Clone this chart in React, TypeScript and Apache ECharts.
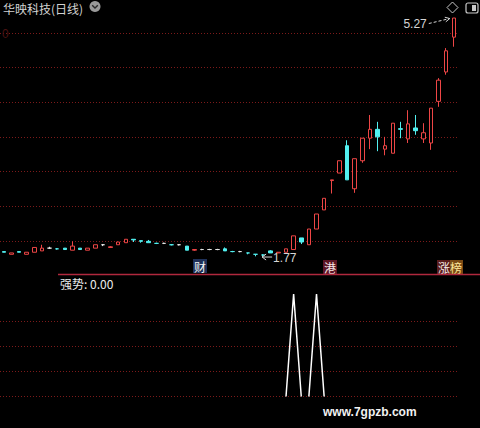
import React, { useEffect, useRef } from "react";
import * as echarts from "echarts";

// Daily K-line of 华映科技: open / close / low / high per session
const opens = [
  1.85, 1.81, 1.85, 1.81, 1.84, 1.86, 1.9, 1.89, 1.9, 1.87,
  1.9, 1.87, 1.9, 1.95, 1.91, 1.95, 1.98, 2.03, 2.01, 2.0,
  1.97, 1.97, 1.95, 1.95, 1.93, 1.87, 1.88, 1.88, 1.88, 1.89,
  1.85, 1.85, 1.83, 1.81, 1.8, 1.86, 1.83, 1.84, 1.88, 2.05,
  1.95, 2.18, 2.46, 2.89, 3.0, 3.4, 2.77, 3.18, 3.51, 3.64,
  3.35, 3.29, 3.65, 3.5, 3.66, 3.5, 3.44, 4.05, 4.48, 4.99,
];
const closes = [
  1.84, 1.83, 1.84, 1.84, 1.91, 1.9, 1.9, 1.89, 1.88, 1.93,
  1.88, 1.9, 1.95, 1.95, 1.92, 1.99, 2.03, 2.02, 2.0, 1.98,
  1.97, 1.97, 1.95, 1.95, 1.87, 1.88, 1.88, 1.88, 1.88, 1.86,
  1.85, 1.85, 1.83, 1.81, 1.8, 1.83, 1.84, 1.89, 2.08, 1.99,
  2.18, 2.4, 2.63, 2.9, 3.18, 2.9, 3.21, 3.51, 3.64, 3.53,
  3.4, 3.73, 3.64, 3.72, 3.62, 3.59, 3.95, 4.36, 4.79, 5.27,
];
const lows = [
  1.84, 1.81, 1.84, 1.81, 1.84, 1.86, 1.89, 1.88, 1.88, 1.87,
  1.88, 1.87, 1.9, 1.93, 1.91, 1.95, 1.98, 1.99, 1.98, 1.98,
  1.96, 1.96, 1.94, 1.94, 1.87, 1.86, 1.87, 1.87, 1.87, 1.86,
  1.84, 1.84, 1.81, 1.78, 1.77, 1.83, 1.83, 1.84, 1.88, 1.96,
  1.95, 2.18, 2.46, 2.7, 3.0, 2.9, 2.71, 3.15, 3.35, 3.32,
  3.26, 3.29, 3.51, 3.44, 3.56, 3.44, 3.34, 3.97, 4.44, 4.85,
];
const highs = [
  1.85, 1.83, 1.85, 1.84, 1.91, 1.95, 1.92, 1.9, 1.9, 2.0,
  1.9, 1.9, 1.95, 1.96, 1.93, 1.99, 2.03, 2.03, 2.01, 2.02,
  1.98, 1.98, 1.96, 1.96, 1.93, 1.88, 1.89, 1.89, 1.89, 1.91,
  1.86, 1.86, 1.83, 1.81, 1.81, 1.87, 1.84, 1.89, 2.08, 2.05,
  2.18, 2.4, 2.63, 2.9, 3.18, 3.48, 3.21, 3.51, 3.85, 3.75,
  3.53, 3.73, 3.75, 3.92, 3.85, 3.73, 3.95, 4.39, 4.83, 5.27,
];

// 强势 indicator: two separate pulses (session index -> value)
const strengthPulse1: Record<number, number> = { 37: 0, 38: 1, 39: 0 };
const strengthPulse2: Record<number, number> = { 40: 0, 41: 1, 42: 0 };
const strengthLast = 0;

const sessions = opens.map((_, i) => String(i + 1));

// price range of the main panel and its grid rows
const PRICE_MIN = 1.497;
const PRICE_MAX = 5.534;
const MAIN_ROWS = 7.952;

const RED = "#ee4646";
const CYAN = "#52f0f0";
const WHITE = "#e4e4e4";
const GRID_RED = "#7c1a1a";

const PLOT_LEFT = 0;
const PLOT_WIDTH = 457.6;

function candleColour(i: number) {
  const o = opens[i];
  const c = closes[i];
  if (c > o) return { fill: "#000", stroke: RED };
  if (c < o) return { fill: CYAN, stroke: CYAN };
  const prev = i > 0 ? closes[i - 1] : c;
  if (c > prev) return { fill: RED, stroke: RED };
  if (c < prev) return { fill: CYAN, stroke: CYAN };
  return { fill: WHITE, stroke: WHITE };
}

export default function App() {
  const ref = useRef<HTMLDivElement>(null);

  useEffect(() => {
    const el = ref.current;
    if (!el) return;
    const chart = echarts.init(el, null, { renderer: "svg" });

    const candleData = opens.map((o, i) => {
      const col = candleColour(i);
      return {
        value: [o, closes[i], lows[i], highs[i]],
        itemStyle: {
          color: col.fill,
          color0: col.fill,
          borderColor: col.stroke,
          borderColor0: col.stroke,
          borderColorDoji: col.stroke,
          borderWidth: 1,
        },
      };
    });

    const pulse = (p: Record<number, number>) =>
      sessions.map((_, i) => (p[i] === undefined ? null : p[i]));

    const gridLine = { color: GRID_RED, width: 1, type: [1, 2] as number[] };
    const hiddenX = (g: number) => ({
      type: "category" as const,
      gridIndex: g,
      data: sessions,
      boundaryGap: true,
      show: false,
    });

    chart.setOption({
      animation: false,
      backgroundColor: "#000",
      grid: [
        { left: PLOT_LEFT, width: PLOT_WIDTH, top: 0, height: 275.67 },
        { left: PLOT_LEFT, width: PLOT_WIDTH, top: 321.5, height: 75 },
        { left: PLOT_LEFT, width: PLOT_WIDTH, top: 294, height: 102.5 },
      ],
      xAxis: [hiddenX(0), hiddenX(1), hiddenX(2)],
      yAxis: [
        { gridIndex: 0, type: "value", min: PRICE_MIN, max: PRICE_MAX, show: false },
        {
          gridIndex: 0,
          type: "value",
          min: 0,
          max: MAIN_ROWS,
          interval: 1,
          axisLine: { show: false },
          axisTick: { show: false },
          axisLabel: { show: false },
          splitLine: { show: true, showMinLine: false, showMaxLine: false, lineStyle: gridLine },
        },
        {
          gridIndex: 1,
          type: "value",
          min: 0,
          max: 3,
          interval: 1,
          axisLine: { show: false },
          axisTick: { show: false },
          axisLabel: { show: false },
          splitLine: { show: true, lineStyle: gridLine },
        },
        { gridIndex: 2, type: "value", min: 0, max: 1, show: false },
      ],
      series: [
        {
          type: "candlestick",
          xAxisIndex: 0,
          yAxisIndex: 0,
          barWidth: 4,
          silent: true,
          data: candleData,
        },
        {
          type: "line",
          xAxisIndex: 2,
          yAxisIndex: 3,
          data: pulse(strengthPulse1),
          symbol: "none",
          silent: true,
          lineStyle: { color: "#ffffff", width: 1.5 },
        },
        {
          type: "line",
          xAxisIndex: 2,
          yAxisIndex: 3,
          data: pulse(strengthPulse2),
          symbol: "none",
          silent: true,
          lineStyle: { color: "#ffffff", width: 1.5 },
        },
      ],
    });

    // high / low markers placed from the data
    const hiVal = Math.max(...highs);
    const loVal = Math.min(...lows);
    const hiIdx = highs.indexOf(hiVal);
    const loIdx = lows.indexOf(loVal);
    const [hx, hy] = chart.convertToPixel({ xAxisIndex: 0, yAxisIndex: 0 }, [sessions[hiIdx], hiVal]) as number[];
    const [lx, ly] = chart.convertToPixel({ xAxisIndex: 0, yAxisIndex: 0 }, [sessions[loIdx], loVal]) as number[];

    const numFont = '12px "Liberation Sans", "Noto Sans", sans-serif';
    const cjk = '"Noto Sans CJK SC", sans-serif';
    const hTip = hx - 3;
    const lTip = lx - 1;

    chart.setOption({
      graphic: [
        {
          type: "text",
          x: 3,
          y: 8,
          z: 10,
          style: { text: "华映科技(日线)", fill: "#d2d2d2", font: `12px ${cjk}`, verticalAlign: "middle" },
        },
        { type: "circle", z: 10, shape: { cx: 95, cy: 6.5, r: 5.5 }, style: { fill: "#9a9a9a" } },
        {
          type: "polyline",
          z: 11,
          shape: { points: [[92.2, 5.2], [95, 8], [97.8, 5.2]] },
          style: { stroke: "#2a2a2a", lineWidth: 1.4, fill: "none" },
        },
        {
          type: "polygon",
          z: 10,
          shape: { points: [[452.5, 2], [458, 7.5], [452.5, 13], [447, 7.5]] },
          style: { stroke: "#c8c8c8", lineWidth: 1, fill: "none" },
        },
        {
          type: "rect",
          z: 10,
          shape: { x: 466, y: 3, width: 12, height: 10, r: 2 },
          style: { stroke: "#c8c8c8", lineWidth: 1.2, fill: "none" },
        },
        { type: "rect", z: 10, shape: { x: 472, y: 5, width: 4, height: 6 }, style: { fill: "#c8c8c8" } },
        {
          type: "text",
          x: 2,
          y: 34,
          z: 10,
          style: { text: "0", fill: "#4a1212", font: numFont, verticalAlign: "middle" },
        },
        // high label with arrow
        {
          type: "text",
          x: hTip - 24,
          y: hy + 6,
          z: 10,
          style: { text: hiVal.toFixed(2), fill: "#d6d6d6", font: numFont, align: "right", verticalAlign: "middle" },
        },
        {
          type: "line",
          z: 10,
          shape: { x1: hTip - 22, y1: hy + 5.5, x2: hTip - 1, y2: hy + 0.5 },
          style: { stroke: "#d6d6d6", lineWidth: 1, lineDash: [3, 2] },
        },
        {
          type: "polyline",
          z: 10,
          shape: { points: [[hTip - 6, hy - 0.8], [hTip - 1, hy + 0.5], [hTip - 5, hy + 3.8]] },
          style: { stroke: "#d6d6d6", lineWidth: 1, fill: "none" },
        },
        // low label with arrow
        {
          type: "line",
          z: 10,
          shape: { x1: lTip, y1: ly, x2: lTip + 10, y2: ly },
          style: { stroke: "#d6d6d6", lineWidth: 1 },
        },
        {
          type: "polyline",
          z: 10,
          shape: { points: [[lTip + 4, ly - 3], [lTip, ly], [lTip + 4, ly + 3]] },
          style: { stroke: "#d6d6d6", lineWidth: 1, fill: "none" },
        },
        {
          type: "text",
          x: lTip + 11,
          y: ly + 1,
          z: 10,
          style: { text: loVal.toFixed(2), fill: "#d6d6d6", font: numFont, verticalAlign: "middle" },
        },
        // event tags
        {
          type: "text",
          x: 193,
          y: 259,
          z: 10,
          style: { text: "财", fill: "#f4f4f4", font: `12px ${cjk}`, backgroundColor: "#1e3058", padding: [1, 1, 1, 1] },
        },
        {
          type: "text",
          x: 323,
          y: 260,
          z: 10,
          style: { text: "港", fill: "#f6e6e6", font: `12px ${cjk}`, backgroundColor: "#5c1424", padding: [1, 1, 1, 1] },
        },
        {
          type: "text",
          x: 437,
          y: 260,
          z: 10,
          style: { text: "涨", fill: "#f4eaea", font: `12px ${cjk}`, backgroundColor: "#5a1c1c", padding: [1, 0, 1, 1] },
        },
        {
          type: "text",
          x: 450,
          y: 260,
          z: 10,
          style: { text: "榜", fill: "#ffe79a", font: `12px ${cjk}`, backgroundColor: "#7a4a14", padding: [1, 1, 1, 0] },
        },
        // panel divider
        {
          type: "line",
          z: 10,
          shape: { x1: 58, y1: 274.5, x2: 480, y2: 274.5 },
          style: { stroke: "#b0283e", lineWidth: 1.5 },
        },
        {
          type: "text",
          x: 60,
          y: 283,
          z: 10,
          style: {
            text: `强势: ${strengthLast.toFixed(2)}`,
            fill: "#ececec",
            font: `12px ${cjk}`,
            verticalAlign: "middle",
          },
        },
        {
          type: "text",
          x: 323,
          y: 412,
          z: 10,
          style: {
            text: "www.7gpzb.com",
            fill: "#f2f2f2",
            font: 'bold 12px "Liberation Sans", Arial, sans-serif',
            verticalAlign: "middle",
          },
        },
      ],
    });

    return () => chart.dispose();
  }, []);

  return (
    <div
      ref={ref}
      style={{ position: "fixed", left: 0, top: 0, width: 480, height: 428, background: "#000" }}
    />
  );
}
